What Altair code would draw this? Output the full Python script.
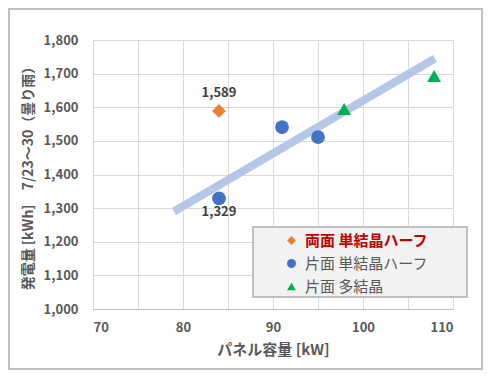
import altair as alt
import pandas as pd

# ---- data ----
panel_kw = [84.0, 84.0, 91.0, 95.0, 97.9, 107.9]
energy = [1589, 1329, 1541, 1511, 1595, 1693]
panel_type = ["両面 単結晶ハーフ", "片面 単結晶ハーフ", "片面 単結晶ハーフ", "片面 単結晶ハーフ", "片面 多結晶", "片面 多結晶"]

type_order = ["両面 単結晶ハーフ", "片面 単結晶ハーフ", "片面 多結晶"]
type_colors = ["#ED7D31", "#4472C4", "#00B050"]
type_shapes = ["diamond", "circle", "triangle-up"]

label_kw = [84.0, 84.0]
label_val = [1589, 1329]
label_text = ["1,589", "1,329"]
label_pos = ["above", "below"]

trend_kw = [79.0, 108.0]
trend_val = [1290, 1745]

x_ticks = [70, 75, 80, 85, 90, 95, 100, 105, 110]
y_ticks = [1000, 1100, 1200, 1300, 1400, 1500, 1600, 1700, 1800]

FONT = "Noto Sans CJK JP"
GREY = "#595959"

pts = pd.DataFrame({"kw": panel_kw, "kwh": energy, "type": panel_type})
labels = pd.DataFrame({"kw": label_kw, "kwh": label_val, "txt": label_text, "pos": label_pos})
trend = pd.DataFrame({"kw": trend_kw, "kwh": trend_val})
one = pd.DataFrame({"a": [0]})

xscale = alt.Scale(domain=[70, 110], nice=False, zero=False)
yscale = alt.Scale(domain=[1000, 1800], nice=False, zero=False)

xaxis = alt.Axis(
    values=x_ticks, labelExpr="datum.value % 10 == 0 ? datum.label : ''",
    title="パネル容量 [kW]", grid=True, gridColor="#D9D9D9", tickSize=0,
    domainColor="#BFBFBF", labelPadding=12, labelFontSize=13, labelFontWeight="bold",
    labelColor=GREY, labelFont=FONT, titleFont=FONT, titleFontSize=15,
    titleFontWeight="bold", titleColor=GREY, titlePadding=8,
)
yaxis = alt.Axis(
    values=y_ticks, format=",.0f", title="発電量 [kWh]　7/23～30（曇り雨）",
    grid=True, gridColor="#D9D9D9", tickSize=0, domain=False, labelPadding=15,
    labelFontSize=13, labelFontWeight="bold", labelColor=GREY, labelFont=FONT,
    titleFont=FONT, titleFontSize=14, titleFontWeight="bold", titleColor=GREY,
    titlePadding=8,
)

X = alt.X("kw:Q", scale=xscale, axis=xaxis)
Y = alt.Y("kwh:Q", scale=yscale, axis=yaxis)

frame = alt.Chart(one).mark_rect(fillOpacity=0, stroke="#BFBFBF", strokeWidth=2).encode(
    x=alt.value(-84), x2=alt.value(389), y=alt.value(-31), y2=alt.value(329)
)

trend_line = alt.Chart(trend).mark_line(color="#B4C7E7", strokeWidth=8, strokeCap="butt").encode(
    x=X, y=Y,
)

legend_box = alt.Chart(one).mark_rect(fill="#F2F2F2", stroke="#BFBFBF", strokeWidth=2).encode(
    x=alt.value(160), x2=alt.value(374), y=alt.value(187), y2=alt.value(257)
)

points = alt.Chart(pts).mark_point(filled=True, size=190, opacity=1).encode(
    x=X, y=Y,
    color=alt.Color(
        "type:N",
        scale=alt.Scale(domain=type_order, range=type_colors),
        legend=alt.Legend(
            title=None, orient="none", legendX=191, legendY=193, padding=0,
            symbolSize=80, rowPadding=7, labelFontSize=15, labelFont=FONT,
            labelOffset=6, labelLimit=300,
            labelColor=alt.ExprRef(expr="datum.label == '両面 単結晶ハーフ' ? '#C00000' : '#595959'"),
            labelFontWeight=alt.ExprRef(expr="datum.label == '両面 単結晶ハーフ' ? 'bold' : 'normal'"),
        ),
    ),
    shape=alt.Shape("type:N", scale=alt.Scale(domain=type_order, range=type_shapes)),
)

lab_above = alt.Chart(labels).transform_filter("datum.pos == 'above'").mark_text(
    baseline="bottom", dy=-11, font=FONT, fontSize=13, fontWeight="bold", color="#404040"
).encode(x=X, y=Y, text="txt:N")

lab_below = alt.Chart(labels).transform_filter("datum.pos == 'below'").mark_text(
    baseline="top", dy=8, font=FONT, fontSize=13, fontWeight="bold", color="#404040"
).encode(x=X, y=Y, text="txt:N")

chart = alt.layer(frame, trend_line, legend_box, points, lab_above, lab_below).properties(
    width=360, height=269, autosize="none",
    padding={"left": 85, "top": 32, "right": 30, "bottom": 61},
).configure_view(strokeWidth=0)

chart.save("out.html", embed_options={"renderer": "svg", "actions": False})
